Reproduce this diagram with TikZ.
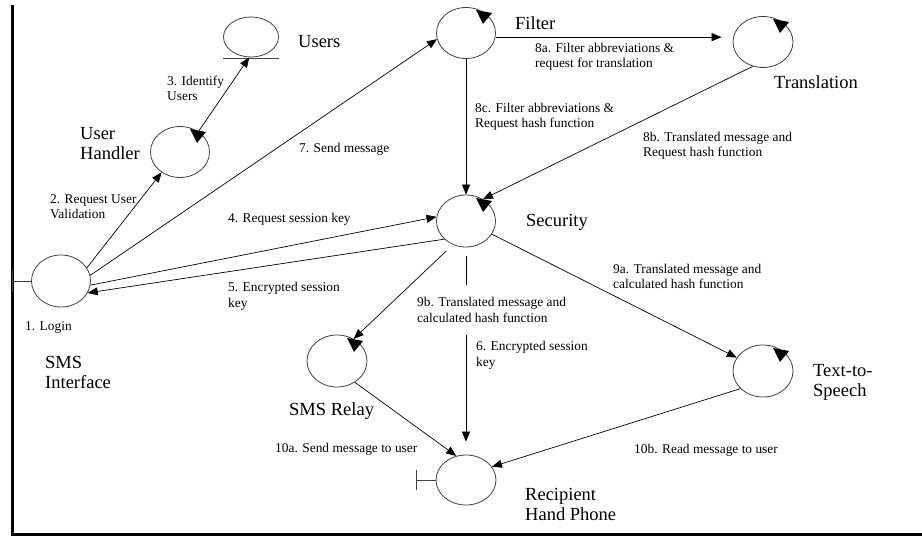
\documentclass[tikz,border=0pt]{standalone}
\usepackage{fontspec}
\setmainfont{Liberation Serif}
\usetikzlibrary{arrows.meta,shapes.geometric}
\newcommand\ctrlmark[1]{\fill ([shift={(10,-23)}]#1.center) -- ([shift={(26,-20)}]#1.center) -- ([shift={(17,-9)}]#1.center) -- cycle;}
\begin{document}
\begin{tikzpicture}[x=1pt,y=-1pt,
  obj/.style={draw=black!75,line width=0.8pt,ellipse,minimum width=59pt,minimum height=51pt,inner sep=0pt},
  msg/.style={font=\fontsize{13.4}{15.5}\selectfont,align=left,anchor=west,inner sep=0pt},
  big/.style={font=\fontsize{18.5}{20}\selectfont,align=left,anchor=west,inner sep=0pt},
  arr/.style={draw,line width=0.7pt,-{Triangle[length=10pt,width=8pt]}},
  conn/.style={draw,line width=0.7pt},
]
\useasboundingbox (0,0) rectangle (922,537);
% frame
\draw[line width=3pt] (12,5) -- (12,534) -- (922,534);

% objects
\node[obj,minimum width=55pt,minimum height=40pt] (users) at (251,37) {};
\node[obj] (uh) at (180,152) {};
\node[obj] (filt) at (466,33) {};
\node[obj,minimum width=60pt] (trans) at (763,42) {};
\node[obj,minimum height=52pt] (sec) at (466,221) {};
\node[obj,minimum height=52pt] (smsi) at (61,281) {};
\node[obj,minimum width=60pt,minimum height=52pt] (relay) at (337,361) {};
\node[obj,minimum width=60pt,minimum height=52pt] (tts) at (763,371) {};
\node[obj,minimum width=60pt,minimum height=50pt] (recip) at (466,480) {};

% entity underline
\draw[black!75,line width=0.8pt] ([shift={(-28,1.5)}]users.south) -- ([shift={(28,1.5)}]users.south);
% boundary ticks
\draw[black!75,line width=0.8pt] (smsi.west) -- ++(-19,0) coordinate (smsitick);
\draw[black!75,line width=0.8pt] ([shift={(0,-11)}]smsitick) -- ([shift={(0,11)}]smsitick);
\draw[black!75,line width=0.8pt] (recip.west) -- ++(-19,0) coordinate (reciptick);
\draw[black!75,line width=0.8pt] ([shift={(0,-10)}]reciptick) -- ([shift={(0,10)}]reciptick);

% control marks
\ctrlmark{uh}
\ctrlmark{filt}
\ctrlmark{trans}
\ctrlmark{sec}
\ctrlmark{relay}
\ctrlmark{tts}

% names
\node[big] (nusers) at (298,42) {Users};
\node[big] (nuh) at (80,144) {User\\Handler};
\node[big] (nfilt) at (515,23) {Filter};
\node[big] (ntrans) at (774,82) {Translation};
\node[big] (nsec) at (526,222) {Security};
\node[big] (nsmsi) at (45,372) {SMS\\Interface};
\node[big] (nrelay) at (289,411) {SMS Relay};
\node[big] (ntts) at (813,382) {Text-to-\\Speech};
\node[big] (nrecip) at (525,504) {Recipient\\Hand Phone};

% message labels
\node[msg] (l1) at (25,328) {1. Login};
\node[msg] (l2) at (50,206.5) {2. Request User\\Validation};
\node[msg] (l3) at (167,88.5) {3. Identify\\Users};
\node[msg] (l4) at (228,219) {4. Request session key};
\node[msg] (l5) at (228,296.5) {5. Encrypted session\\key};
\node[msg] (l6) at (476,355.5) {6. Encrypted session\\key};
\node[msg] (l7) at (299,149) {7. Send message};
\node[msg] (l8a) at (535,57) {8a. Filter abbreviations \&\\request for translation};
\node[msg] (l8b) at (643,146) {8b. Translated message and\\Request hash function};
\node[msg] (l8c) at (475,117) {8c. Filter abbreviations \&\\Request hash function};
\node[msg] (l9a) at (613,276.5) {9a. Translated message and\\calculated hash function};
\node[msg,minimum height=50pt] (l9b) at (417,310) {9b. Translated message and\\calculated hash function};
\node[msg] (l10a) at (275,449) {10a. Send message to user};
\node[msg] (l10b) at (634,450) {10b. Read message to user};

% connectors
\draw[arr] (uh.48) -- (users.265);
\draw[arr] (smsi.27) -- (uh.228);
\draw[arr] (smsi.11) -- (filt.192);
\draw[arr] (smsi.-8) -- (sec.172);
\draw[arr] (sec.220) -- (smsi.-24);
\draw[arr,shorten >=11pt] (filt.-8) -- (filt.-8 -| trans.west);
\draw[arr] (filt.south) -- (sec.north);
\draw[arr] (trans.247) -- (sec.52);
\draw[arr] (sec.-27) -- (tts.153);
\draw[arr,shorten <=9pt] (sec.241) -- (relay.53);
\draw[conn,shorten <=9pt] (sec.south) -- (sec.south |- l9b.north);
\draw[arr,shorten >=13pt] (sec.south |- l9b.south) -- (recip.north);
\draw[arr] (relay.-50) -- (recip.112);
\draw[arr] (tts.218) -- (recip.27);
\end{tikzpicture}
\end{document}
